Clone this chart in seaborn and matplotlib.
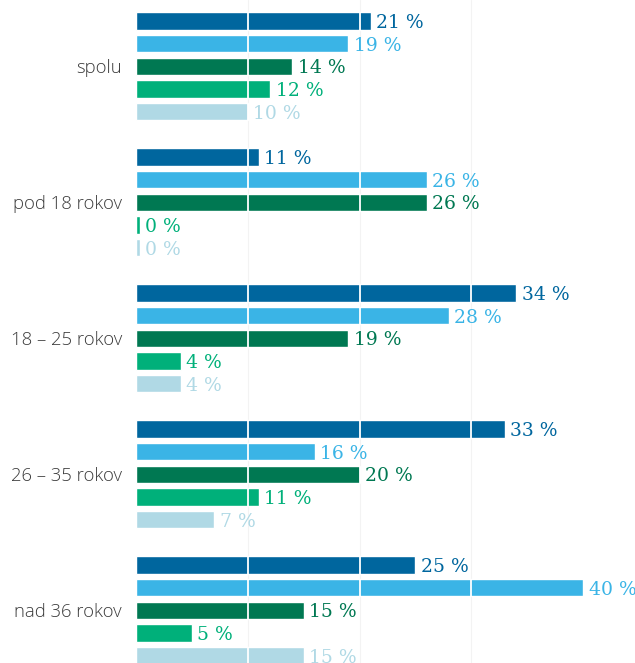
import matplotlib
matplotlib.use("Agg")
import matplotlib.pyplot as plt
import seaborn as sns
import pandas as pd

groups = ["spolu", "pod 18 rokov", "18 – 25 rokov", "26 – 35 rokov", "nad 36 rokov"]
series = ["s1", "s2", "s3", "s4", "s5"]
values = {
    "s1": [21, 11, 34, 33, 25],
    "s2": [19, 26, 28, 16, 40],
    "s3": [14, 26, 19, 20, 15],
    "s4": [12, 0.35, 4, 11, 5],
    "s5": [10, 0.35, 4, 7, 15],
}
colors = ["#00669e", "#3ab4e6", "#007852", "#00b07a", "#b0d9e5"]
grid_ticks = [10, 20, 30]

rows = []
for s in series:
    for g, v in zip(groups, values[s]):
        rows.append({"group": g, "series": s, "value": v})
df = pd.DataFrame(rows)

sns.set_style("white")
fig = plt.figure(figsize=(6.35, 6.63), dpi=100)
ax = fig.add_axes([136 / 635, 0, 447 / 635, 1])

sns.barplot(data=df, x="value", y="group", hue="series", order=groups,
            hue_order=series, palette=colors, orient="h", width=5 / 6,
            gap=0.24, legend=False, ax=ax, saturation=1)

ax.set_xlim(0, 40)
ax.set_ylim(4.3875, -0.4877)
for sp in ax.spines.values():
    sp.set_visible(False)
ax.set_xticks([])
ax.set_xlabel("")
ax.set_ylabel("")
ax.tick_params(axis="y", length=0, pad=10)
for lab in ax.get_yticklabels():
    lab.set_fontfamily("Open Sans")
    lab.set_fontweight("light")
    lab.set_fontsize(13.3)
    lab.set_color("#3a3a3a")

# faint background grid
for g in grid_ticks:
    ax.axvline(g, color="#f3f3f3", lw=0.8, zorder=0)

# white gridlines on top of bars, clipped to each bar
for patch in ax.patches:
    for g in grid_ticks:
        ln = ax.axvline(g, color="white", lw=1.3, zorder=5)
        ln.set_clip_path(patch)

for cont, c, s in zip(ax.containers, colors, series):
    labels = [f"{v:.0f} %" for v in values[s]]
    texts = ax.bar_label(cont, labels=labels, padding=4, color=c, fontsize=13.5,
                         fontfamily="DejaVu Serif")
    for t in texts:
        t.xyann = (4, -1.5)

fig.savefig("out.png", dpi=100)
